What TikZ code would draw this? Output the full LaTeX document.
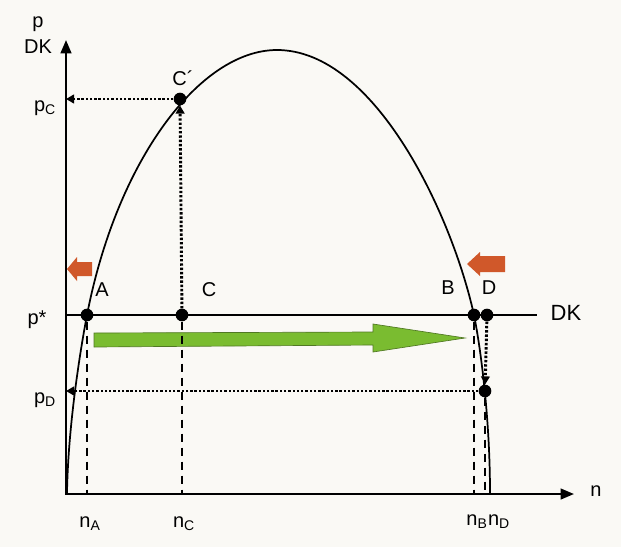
\documentclass[tikz,border=0pt]{standalone}
\usepackage{fontspec}
\setmainfont{Liberation Sans}
\usetikzlibrary{arrows.meta}
\definecolor{bg}{RGB}{250,249,245}
\definecolor{grn}{RGB}{122,188,48}
\definecolor{grnd}{RGB}{80,120,35}
\definecolor{org}{RGB}{208,88,42}
\begin{document}
\begin{tikzpicture}[x=0.75pt,y=-0.75pt,
  axisline/.style={line width=1.6pt,line join=miter},
  curveline/.style={line width=1.3pt},
  dot/.style={circle,fill=black,inner sep=0pt,minimum size=9.5pt},
  dotline/.style={line width=2.2pt,dash pattern=on 1.8pt off 1.4pt},
  dashline/.style={line width=1.4pt,dash pattern=on 6pt off 4.5pt},
  smalltip/.style={-{Triangle[length=6pt,width=6.5pt]}},
  lbl/.style={font=\fontsize{15}{18}\selectfont,inner sep=0pt},
  lbb/.style={font=\fontsize{16.5}{20}\selectfont,inner sep=0pt}]
\fill[bg] (0,0) rectangle (621,547);
\useasboundingbox (0,0) rectangle (621,547);
% axes
\coordinate (O) at (66,494);
\coordinate (ytip) at (66,40);
\coordinate (xtip) at (574,494);
\draw[axisline,{Triangle[length=10pt,width=8pt]}-{Triangle[length=10pt,width=8pt]}] (ytip) -- (O) -- (xtip);
% curve
\draw[curveline] (67,493) .. controls (68,430) and (79,357) .. (87,315)
  .. controls (117,160) and (200,50) .. (277,50)
  .. controls (375,50) and (452,215) .. (474,315)
  .. controls (481,350) and (490,420) .. (490,493);
% DK line
\coordinate (dkL) at (66,315);
\coordinate (dkR) at (537,315);
\draw[line width=1.4pt] (dkL) -- (dkR);
% green arrow
\filldraw[fill=grn,draw=grnd,line width=0.5pt] (94,333) -- (373,332) -- (373,324) -- (465,338) -- (373,352) -- (373,345) -- (94,347) -- cycle;
% orange arrows
\fill[org] (67,269) -- (77,257) -- (77,262) -- (92,262) -- (92,276) -- (77,276) -- (77,281) -- cycle;
\fill[org] (467,264) -- (480,252) -- (480,256) -- (505,256) -- (505,272) -- (480,272) -- (480,276) -- cycle;
% points
\node[dot] (A) at (87,315) {};
\node[dot] (C) at (182,315) {};
\node[dot] (B) at (474,315) {};
\node[dot] (D) at (487,315) {};
\node[dot] (Cp) at (180,99) {};
\node[dot] (Dl) at (485,391) {};
\coordinate (pC) at (66,99);
\coordinate (pD) at (66,391);
% dotted connectors
\draw[dotline,smalltip] (C) -- (Cp);
\draw[dotline,smalltip] (Cp) -- (pC);
\draw[dotline,smalltip] (D) -- (Dl);
\draw[dotline,smalltip] (Dl) -- (pD);
% dashed drop lines
\draw[dashline] (A) -- (A |- O);
\draw[dashline] (C) -- (C |- O);
\draw[dashline] (B) -- (B |- O);
\draw[dashline] (Dl) -- (Dl |- O);
% labels
\node[lbl] (lp) at (38,24) {p};
\node[lbl] (lDK) at (38,47) {DK};
\node[lbl] (lpC) at (45,108) {p\textsubscript{C}};
\node[lbl] (lps) at (37,320) {p*};
\node[lbl] (lpD) at (45,400) {p\textsubscript{D}};
\node[lbl] (lA) at (102,290) {A};
\node[lbl] (lC) at (209,290) {C};
\node[lbl] (lB) at (448,288) {B};
\node[lbl] (lD) at (489,288) {D};
\node[lbl] (lCp) at (183,78) {C´};
\node[lbb] (lDKr) at (566,313) {DK};
\node[lbl] (ln) at (596,491) {n};
\node[lbl] (lnA) at (90,524) {n\textsubscript{A}};
\node[lbl] (lnC) at (184,524) {n\textsubscript{C}};
\node[lbl] (lnB) at (477,522) {n\textsubscript{B}};
\node[lbl] (lnD) at (499,522) {n\textsubscript{D}};
\end{tikzpicture}
\end{document}
